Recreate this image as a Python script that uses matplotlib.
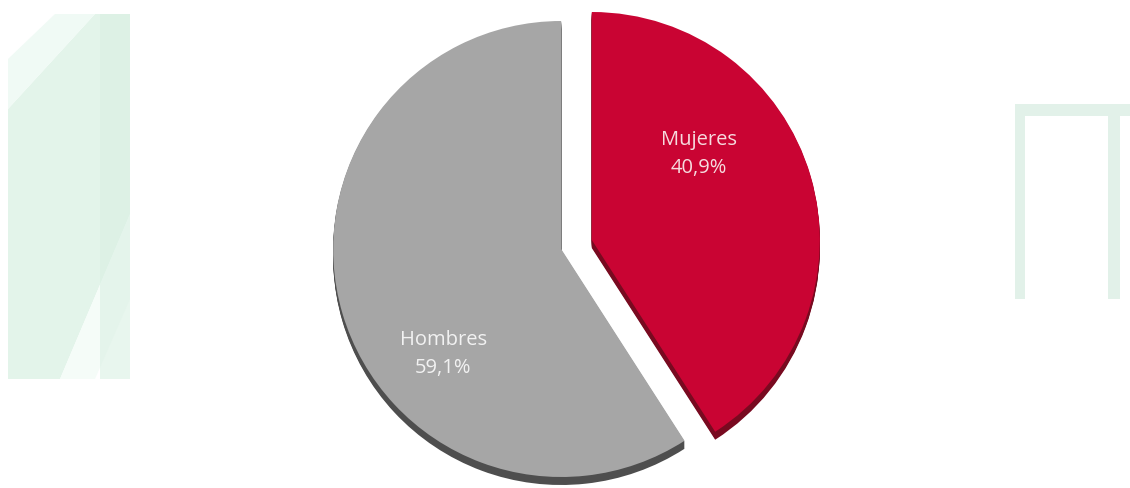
import matplotlib
matplotlib.use("Agg")
import matplotlib.pyplot as plt
from matplotlib.patches import Polygon, Rectangle

labels = ["Mujeres", "Hombres"]
values = [40.9, 59.1]
label_text = ["Mujeres\n40,9%", "Hombres\n59,1%"]
explode = [0.14, 0.0]

top_colors = ["#C90433", "#A6A6A6"]
side_colors = ["#780A20", "#4E4E4E"]

W, H = 1130, 489
fig = plt.figure(figsize=(W / 100, H / 100), dpi=100)
fig.patch.set_facecolor("white")

# background watermark (figure-pixel coordinates)
bg = fig.add_axes([0, 0, 1, 1])
bg.set_xlim(0, W)
bg.set_ylim(H, 0)
bg.axis("off")
green = "#E0F3E8"
bg.add_patch(Polygon([(8, 110), (95, 15), (130, 15), (130, 215), (60, 380), (8, 380)],
                     closed=True, color=green, lw=0, alpha=0.9))
bg.add_patch(Polygon([(8, 60), (55, 15), (95, 15), (8, 110)], closed=True,
                     color="#F0FAF5", lw=0))
bg.add_patch(Polygon([(60, 380), (130, 215), (130, 300), (95, 380)], closed=True,
                     color="#F5FCF8", lw=0))
bg.add_patch(Rectangle((100, 15), 30, 365, color="#D9F0E3", lw=0, alpha=0.6))
# right arch
arch = "#E2F1E9"
bg.add_patch(Rectangle((1015, 110), 10, 190, color=arch, lw=0))
bg.add_patch(Rectangle((1015, 105), 115, 12, color=arch, lw=0))
bg.add_patch(Rectangle((1108, 110), 12, 190, color=arch, lw=0))

# pie axes: radius 1 in data -> 238 px horizontally, 228 px vertically
cx, cy, rx, ry = 561, 250, 238, 228
ax = fig.add_axes([0, 0, 1, 1])
ax.patch.set_alpha(0)
ax.axis("off")

depth = 8
for d in range(depth, 0, -1):
    ax.pie(values, explode=explode, colors=side_colors, startangle=90,
           counterclock=False, center=(0, -d / ry), frame=True,
           wedgeprops=dict(linewidth=0))
wedges, _ = ax.pie(values, explode=explode, colors=top_colors, startangle=90,
                   counterclock=False, center=(0, 0), frame=True,
                   wedgeprops=dict(linewidth=0))

ax.set_xlim(-cx / rx, (W - cx) / rx)
ax.set_ylim((cy - H) / ry, cy / ry)
ax.set_xticks([])
ax.set_yticks([])
for s in ax.spines.values():
    s.set_visible(False)

# labels
label_pos = [((705 - cx) / rx, (cy - 154) / ry), ((438 - cx) / rx, (cy - 354) / ry)]
label_colors = ["#F6DCDF", "#F2F2F2"]
for txt, (x, y), c in zip(label_text, label_pos, label_colors):
    ax.text(x, y, txt, ha="center", va="center", fontsize=14.5, color=c,
            family=["Open Sans", "DejaVu Sans"], linespacing=1.55)

fig.savefig("out.png", dpi=100, facecolor="white")
